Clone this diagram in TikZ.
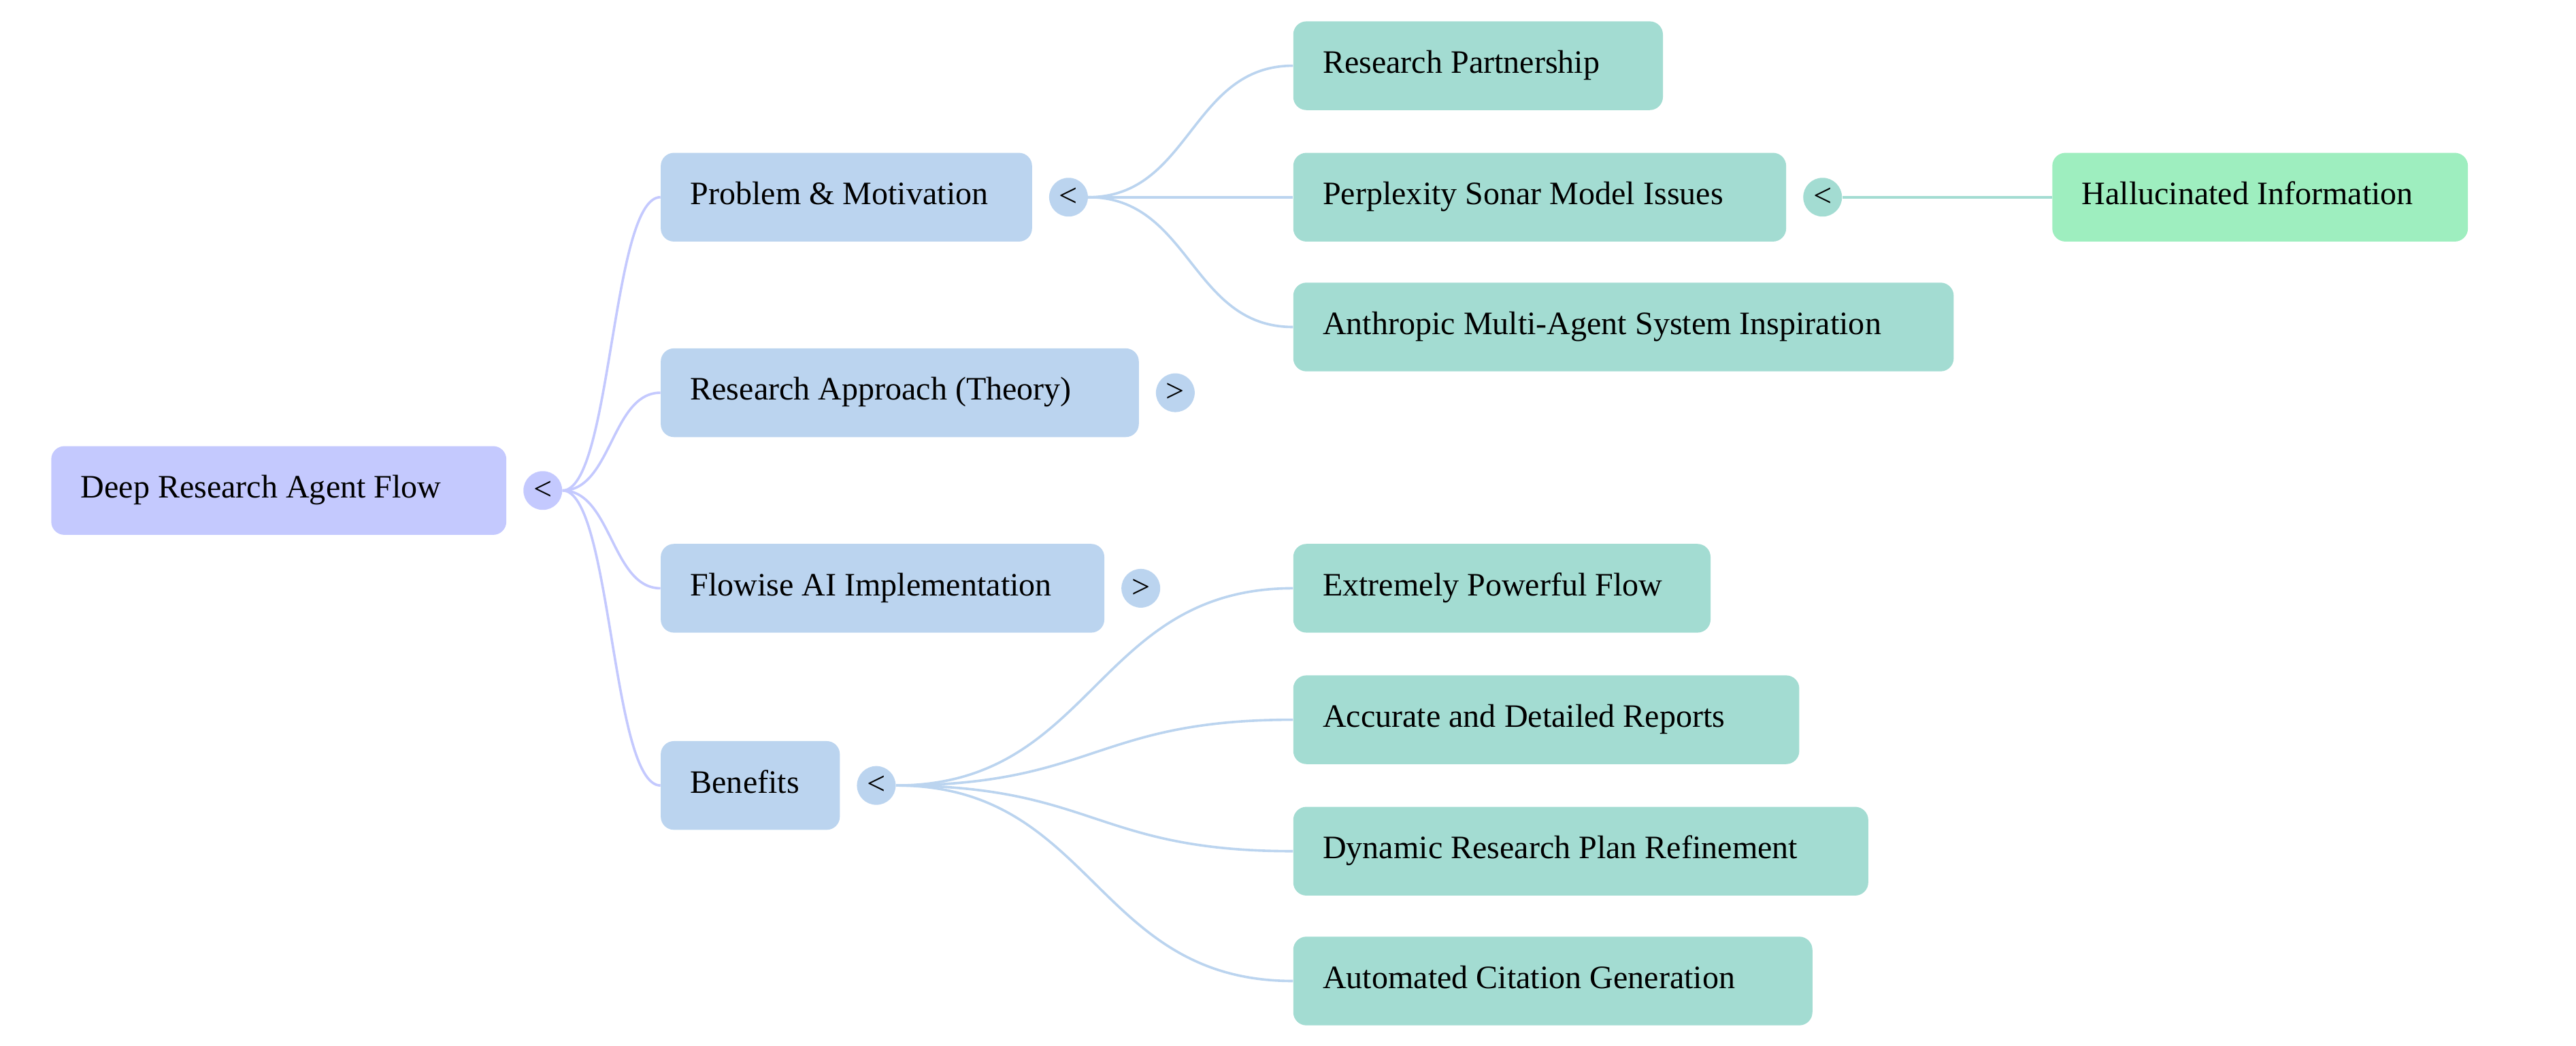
\documentclass[tikz,border=0pt]{standalone}
\usepackage{fontspec}
\setmainfont{Liberation Serif}
\usetikzlibrary{calc}
\definecolor{c0}{HTML}{C4C9FE}
\definecolor{c1}{HTML}{BBD4EF}
\definecolor{c2}{HTML}{A3DCD2}
\definecolor{c3}{HTML}{9EEEBF}
\newcommand{\boxtext}[2]{\makebox[#1][l]{#2}}
\begin{document}
\begin{tikzpicture}[x=1pt,y=-1pt,
  every node/.style={font=\fontsize{19.9}{24}\selectfont},
  box/.style={rounded corners=8pt, inner xsep=18pt, inner ysep=0pt, minimum height=54pt,
    text height=14pt, text depth=5pt, anchor=west},
  tog/.style={circle, inner sep=0pt, minimum size=23.6pt},
  edge/.style={line width=1.5pt}]
\useasboundingbox (0,0) rectangle (1568,636.5);
% nodes
\node[box, fill=c0] (root) at (31,298.5) {\boxtext{241pt}{Deep Research Agent Flow}};
\node[tog, fill=c0] (t0) at ($(root.east)+(22,0)$) {<};
\node[box, fill=c1] (p1) at (402,120) {\boxtext{190pt}{Problem \& Motivation}};
\node[tog, fill=c1] (t1) at ($(p1.east)+(22,0)$) {<};
\node[box, fill=c1] (p2) at (402,239) {\boxtext{255pt}{Research Approach (Theory)}};
\node[tog, fill=c1] (t2) at ($(p2.east)+(22,0)$) {>};
\node[box, fill=c1] (p3) at (402,358) {\boxtext{234pt}{Flowise AI Implementation}};
\node[tog, fill=c1] (t3) at ($(p3.east)+(22,0)$) {>};
\node[box, fill=c1] (p4) at (402,478) {\boxtext{73pt}{Benefits}};
\node[tog, fill=c1] (t4) at ($(p4.east)+(22,0)$) {<};
\node[box, fill=c2] (q1) at (787,40) {\boxtext{189pt}{Research Partnership}};
\node[box, fill=c2] (q2) at (787,120) {\boxtext{264pt}{Perplexity Sonar Model Issues}};
\node[tog, fill=c2] (t5) at ($(q2.east)+(22,0)$) {<};
\node[box, fill=c2] (q3) at (787,199) {\boxtext{366pt}{Anthropic Multi-Agent System Inspiration}};
\node[box, fill=c2] (q4) at (787,358) {\boxtext{218pt}{Extremely Powerful Flow}};
\node[box, fill=c2] (q5) at (787,438) {\boxtext{272pt}{Accurate and Detailed Reports}};
\node[box, fill=c2] (q6) at (787,518) {\boxtext{314pt}{Dynamic Research Plan Refinement}};
\node[box, fill=c2] (q7) at (787,597) {\boxtext{280pt}{Automated Citation Generation}};
\node[box, fill=c3] (r1) at (1249,120) {\boxtext{217pt}{Hallucinated Information}};
% connectors
\foreach \a/\b/\c in {t0/p1/c0, t0/p2/c0, t0/p3/c0, t0/p4/c0,
    t1/q1/c1, t1/q2/c1, t1/q3/c1,
    t4/q4/c1, t4/q5/c1, t4/q6/c1, t4/q7/c1,
    t5/r1/c2}{
  \draw[edge, draw=\c] let \p1=(\a.east), \p2=(\b.west), \n1={(\x2-\x1)/2} in
    (\p1) .. controls ($(\p1)+(\n1,0)$) and ($(\p2)-(\n1,0)$) .. (\p2);
}
\end{tikzpicture}
\end{document}
